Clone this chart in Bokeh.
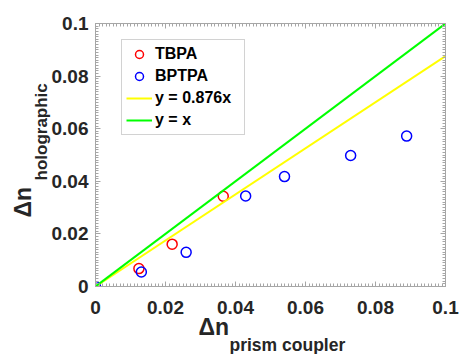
import math
from bokeh.plotting import figure
from bokeh.models import (Range1d, LinearAxis, FixedTicker, PrintfTickFormatter,
                          Title, Legend)
from bokeh.embed import file_html
from bokeh.resources import INLINE

# ---- data ----
tbpa_x = [0.0124, 0.0219, 0.0365]
tbpa_y = [0.0068, 0.0161, 0.0343]
bptpa_x = [0.0, 0.0131, 0.0259, 0.0429, 0.0540, 0.0729, 0.0889]
bptpa_y = [0.0, 0.0055, 0.0130, 0.0344, 0.0418, 0.0498, 0.0572]
fit_slope = 0.876
line_x = [0.0, 0.1]
tick_values = [0.0, 0.02, 0.04, 0.06, 0.08, 0.1]
minor_values = [i / 1000 for i in range(0, 101)]

FONT = "Liberation Sans"
GREY = "#a6a6a6"
DARK = "#262626"

p = figure(width=459, height=354, x_range=Range1d(0, 0.1), y_range=Range1d(0, 0.1),
           output_backend="svg", toolbar_location=None,
           min_border_left=95, min_border_right=14, min_border_top=23, min_border_bottom=68)
p.outline_line_color = None
p.xgrid.visible = False
p.ygrid.visible = False
p.background_fill_color = "white"
p.border_fill_color = "white"

top_axis = LinearAxis()
right_axis = LinearAxis()
p.add_layout(top_axis, "above")
p.add_layout(right_axis, "right")
bottom_axis = p.below[0]
left_axis = p.left[0]

for ax in (top_axis, right_axis, bottom_axis, left_axis):
    ax.ticker = FixedTicker(ticks=tick_values, minor_ticks=minor_values)
    ax.formatter = PrintfTickFormatter(format="%g")
    ax.axis_line_color = GREY
    ax.axis_line_width = 1
    ax.major_tick_line_color = GREY
    ax.minor_tick_line_color = GREY
    ax.major_tick_in = 5
    ax.major_tick_out = 0
    ax.minor_tick_in = 3
    ax.minor_tick_out = 0
    ax.major_label_text_font = FONT
    ax.major_label_text_font_style = "bold"
    ax.major_label_text_font_size = "19px"
    ax.major_label_text_color = DARK

bottom_axis.major_label_standoff = 14
left_axis.major_label_standoff = 7
for ax in (top_axis, right_axis):
    ax.major_label_text_alpha = 0
    ax.major_label_text_font_size = "1px"
    ax.major_label_standoff = 0

# ---- glyphs ----
r_tbpa = p.scatter(tbpa_x, tbpa_y, marker="circle", size=10, fill_color=None,
                   line_color="#ff0000", line_width=1.5)
r_bptpa = p.scatter(bptpa_x, bptpa_y, marker="circle", size=10, fill_color=None,
                    line_color="#0000ff", line_width=1.5)
r_fit = p.line(line_x, [fit_slope * v for v in line_x], line_color="#ffff00", line_width=2)
r_id = p.line(line_x, line_x, line_color="#00ff00", line_width=2)

legend = Legend(items=[("TBPA", [r_tbpa]), ("BPTPA", [r_bptpa]),
                       ("y = 0.876x", [r_fit]), ("y = x", [r_id])],
                location=(26, 151))
legend.label_text_font = FONT
legend.label_text_font_style = "bold"
legend.label_text_font_size = "16px"
legend.label_text_color = "black"
legend.glyph_width = 26
legend.glyph_height = 20
legend.label_height = 20
legend.label_width = 85
legend.label_standoff = 3
legend.padding = 4
legend.spacing = 2
legend.margin = 0
legend.border_line_color = GREY
legend.border_line_width = 1
legend.background_fill_alpha = 1
p.add_layout(legend, "center")

# ---- axis labels with subscripts, as stacked titles in the side panels ----
t_kw = dict(text_font=FONT, text_font_style="bold", text_color=DARK, align="left")
p.add_layout(Title(text="Δn", offset=103, text_font_size="23px", standoff=-10, **t_kw), "below")
p.add_layout(Title(text="prism coupler", offset=134, text_font_size="17.5px", standoff=-4, **t_kw), "below")
p.add_layout(Title(text="holographic", offset=106, text_font_size="17px", standoff=-5, **t_kw), "left")
p.add_layout(Title(text="Δn", offset=69, text_font_size="23px", standoff=-6, **t_kw), "left")

open("out.html", "w").write(file_html(p, INLINE))
